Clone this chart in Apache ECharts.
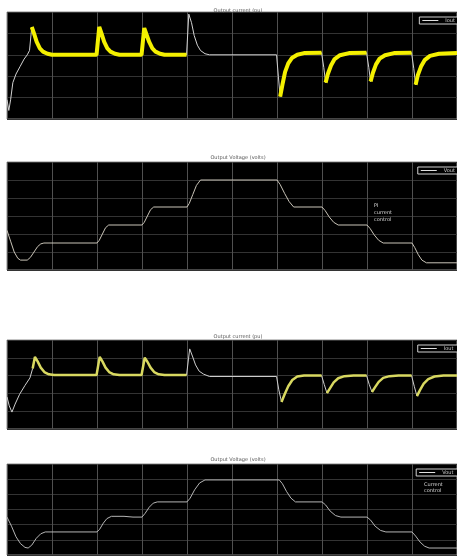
<!DOCTYPE html>
<html>
<head>
<meta charset="utf-8">
<script src="https://cdn.jsdelivr.net/npm/echarts@6/dist/echarts.min.js"></script>
<style>
  html, body { margin: 0; padding: 0; background: #fff; }
  #chart { width: 457px; height: 557px; }
</style>
</head>
<body>
<div id="chart"></div>
<script>
// Panel titles
const titles = ['Output current (pu)', 'Output Voltage (volts)', 'Output current (pu)', 'Output Voltage (volts)'];
const legendNames = ['Iout', 'Vout', 'Iout ', 'Vout '];
const notes = ['PI\ncurrent\ncontrol', 'Current\ncontrol'];

// Time axis: seconds
const timeTicks = { min: 0, max: 1, interval: 0.1 };

// Output current, first run [t, pu]
const currentA = [
  [0,0.9],[0.004,0.4],[0.008,0.9],[0.013,1.7],[0.02,2.1],[0.029,2.45],[0.038,2.8],[0.045,3.0],[0.05,3.2],
  [0.055,4.3],[0.06,4.0],[0.066,3.6],[0.073,3.3],[0.08,3.15],[0.09,3.05],[0.1,3.0],
  [0.199,3.0],[0.205,4.3],[0.21,4.0],[0.216,3.6],[0.223,3.3],[0.23,3.15],[0.24,3.05],[0.25,3.0],
  [0.299,3.0],[0.305,4.25],[0.31,3.95],[0.316,3.6],[0.323,3.3],[0.33,3.15],[0.34,3.05],[0.35,3.0],
  [0.399,3.0],[0.404,4.9],[0.41,4.5],[0.416,3.9],[0.423,3.45],[0.43,3.2],[0.44,3.05],[0.45,3.0],
  [0.599,3.0],[0.603,2.0],[0.607,1.05],[0.612,1.6],[0.618,2.2],[0.625,2.6],[0.633,2.85],[0.645,3.0],[0.66,3.08],
  [0.699,3.1],[0.704,2.4],[0.708,1.7],[0.713,2.1],[0.72,2.5],[0.728,2.8],[0.74,2.98],[0.76,3.08],
  [0.799,3.1],[0.804,2.4],[0.808,1.75],[0.813,2.15],[0.82,2.55],[0.828,2.82],[0.84,2.98],[0.86,3.08],
  [0.899,3.1],[0.904,2.35],[0.908,1.6],[0.913,2.05],[0.92,2.45],[0.928,2.75],[0.94,2.95],[0.96,3.05],[1.0,3.08]
];

// Output voltage, first run [t, V]
const voltageA = [
  [0,2.2],[0.008,1.6],[0.016,1.0],[0.024,0.65],[0.03,0.55],[0.045,0.55],[0.052,0.7],[0.06,1.0],[0.068,1.3],[0.075,1.45],[0.082,1.5],
  [0.2,1.5],[0.205,1.65],[0.212,2.0],[0.219,2.35],[0.226,2.5],
  [0.3,2.5],[0.305,2.65],[0.312,3.0],[0.319,3.35],[0.326,3.5],
  [0.4,3.5],[0.405,3.7],[0.413,4.2],[0.421,4.7],[0.43,5.0],
  [0.6,5.0],[0.607,4.75],[0.617,4.25],[0.627,3.8],[0.637,3.5],
  [0.7,3.5],[0.707,3.3],[0.716,2.95],[0.726,2.65],[0.736,2.5],
  [0.8,2.5],[0.807,2.3],[0.816,1.95],[0.826,1.65],[0.836,1.5],
  [0.9,1.5],[0.906,1.25],[0.914,0.85],[0.922,0.55],[0.932,0.4],[1.0,0.4]
];

// Output current, second run [t, pu]
const currentB = [
  [0,1.8],[0.005,1.3],[0.011,0.95],[0.018,1.4],[0.028,1.95],[0.04,2.45],[0.051,2.87],[0.057,3.4],
  [0.062,4.05],[0.068,3.8],[0.075,3.45],[0.083,3.2],[0.093,3.07],[0.105,3.03],
  [0.199,3.03],[0.206,4.05],[0.212,3.8],[0.219,3.45],[0.227,3.2],[0.237,3.07],[0.25,3.03],
  [0.299,3.03],[0.306,4.0],[0.312,3.78],[0.319,3.45],[0.327,3.2],[0.337,3.07],[0.35,3.03],
  [0.399,3.03],[0.406,4.5],[0.412,4.1],[0.419,3.6],[0.427,3.25],[0.437,3.08],[0.45,2.95],
  [0.599,2.95],[0.604,2.2],[0.61,1.52],[0.617,1.95],[0.625,2.4],[0.634,2.75],[0.645,2.95],[0.66,3.0],
  [0.699,3.0],[0.705,2.5],[0.711,2.02],[0.718,2.3],[0.726,2.62],[0.736,2.85],[0.75,2.97],[0.77,3.0],
  [0.799,3.0],[0.805,2.5],[0.811,2.08],[0.818,2.35],[0.826,2.65],[0.836,2.87],[0.85,2.97],[0.87,3.0],
  [0.899,3.0],[0.905,2.4],[0.911,1.85],[0.918,2.2],[0.926,2.55],[0.936,2.8],[0.95,2.95],[0.97,3.0],[1.0,3.0]
];

// Output voltage, second run [t, V]
const voltageB = [
  [0,2.5],[0.01,1.9],[0.02,1.2],[0.03,0.75],[0.04,0.5],[0.047,0.46],[0.055,0.65],[0.065,1.1],[0.075,1.4],[0.085,1.52],
  [0.2,1.52],[0.206,1.7],[0.214,2.1],[0.222,2.4],[0.232,2.55],[0.26,2.55],[0.28,2.5],
  [0.3,2.5],[0.307,2.75],[0.316,3.15],[0.325,3.42],[0.334,3.5],
  [0.4,3.5],[0.407,3.75],[0.417,4.3],[0.428,4.75],[0.44,4.95],
  [0.605,4.95],[0.612,4.7],[0.621,4.2],[0.631,3.75],[0.641,3.5],
  [0.7,3.5],[0.708,3.3],[0.718,2.9],[0.73,2.6],[0.742,2.5],
  [0.8,2.5],[0.808,2.3],[0.818,1.9],[0.83,1.62],[0.842,1.52],
  [0.9,1.52],[0.908,1.25],[0.918,0.85],[0.928,0.58],[0.938,0.46],[1.0,0.46]
];

// Time windows where the rippled (yellow) current trace is shown
const rippleSpans = [[0.055,0.199],[0.205,0.299],[0.305,0.399],[0.607,0.699],[0.708,0.799],[0.808,0.899],[0.908,1.0]];

const currentAxis = { min: 0, max: 5, interval: 1 };
const voltageAxis = { min: 0, max: 6, interval: 1 };

function ripple(data) {
  return data.map(p => rippleSpans.some(s => p[0] >= s[0] - 1e-9 && p[0] <= s[1] + 1e-9) ? p : [p[0], null]);
}

const panels = [
  { top: 12, height: 107, axis: currentAxis },
  { top: 162, height: 108, axis: voltageAxis },
  { top: 340, height: 89, axis: currentAxis },
  { top: 464, height: 91, axis: voltageAxis }
];

const chart = echarts.init(document.getElementById('chart'), null, { renderer: 'canvas' });

const grid = panels.map(p => ({
  left: 7, right: 0, top: p.top, height: p.height,
  show: true, backgroundColor: '#000', borderColor: '#8a8a8a', borderWidth: 1
}));

const xAxis = panels.map((p, i) => ({
  type: 'value', gridIndex: i, min: timeTicks.min, max: timeTicks.max, interval: timeTicks.interval,
  axisLine: { show: false }, axisTick: { show: false }, axisLabel: { show: false },
  splitLine: { show: true, lineStyle: { color: '#505050', width: 1 } }
}));

const yAxis = panels.map((p, i) => ({
  type: 'value', gridIndex: i, min: p.axis.min, max: p.axis.max, interval: p.axis.interval,
  axisLine: { show: false }, axisTick: { show: false }, axisLabel: { show: false },
  splitLine: { show: true, lineStyle: { color: '#333', width: 1 } }
}));

const line = (name, idx, data, color, width, z) => ({
  name, type: 'line', xAxisIndex: idx, yAxisIndex: idx, data,
  showSymbol: false, symbol: 'none', connectNulls: false, z,
  lineStyle: { color, width }, itemStyle: { color }
});

const series = [
  line(legendNames[0], 0, currentA, '#d2d2d2', 1, 2),
  line('ripple A', 0, ripple(currentA), '#f4f000', 4, 3),
  line(legendNames[1], 1, voltageA, '#c9c4b8', 1, 2),
  line(legendNames[2], 2, currentB, '#cfcfcf', 1, 2),
  line('ripple B', 2, ripple(currentB), '#d8d860', 2.5, 3),
  line(legendNames[3], 3, voltageB, '#b5b5b5', 1, 2)
];

const legend = panels.map((p, i) => ({
  right: -3, top: p.top + 5, orient: 'vertical',
  backgroundColor: '#000', borderColor: '#d0d0d0', borderWidth: 1,
  padding: [1, 5, 1, 3], itemGap: 0, itemWidth: 16, itemHeight: 1,
  icon: 'rect', selectedMode: false,
  textStyle: { color: '#d0d0d0', fontSize: 5, fontFamily: 'DejaVu Sans', padding: [0, 0, 0, 2] },
  data: [{ name: legendNames[i], itemStyle: { color: '#e0e0e0' } }]
}));

const titleTops = [3, 150, 329, 452];
const title = titles.map((t, i) => ({
  text: t, left: 233, top: titleTops[i], textAlign: 'center',
  textStyle: { fontSize: 5, fontWeight: 'normal', color: '#555', fontFamily: 'DejaVu Sans' }
}));

chart.setOption({
  animation: false,
  backgroundColor: '#fff',
  title, grid, xAxis, yAxis, legend, series,
  graphic: [
    { type: 'text', left: 374, top: 202, z: 10,
      style: { text: notes[0], fill: '#d8d8d8', font: '5px DejaVu Sans', lineHeight: 7 } },
    { type: 'text', left: 424, top: 482, z: 10,
      style: { text: notes[1], fill: '#d8d8d8', font: '5px DejaVu Sans', lineHeight: 6 } }
  ]
});
</script>
</body>
</html>
